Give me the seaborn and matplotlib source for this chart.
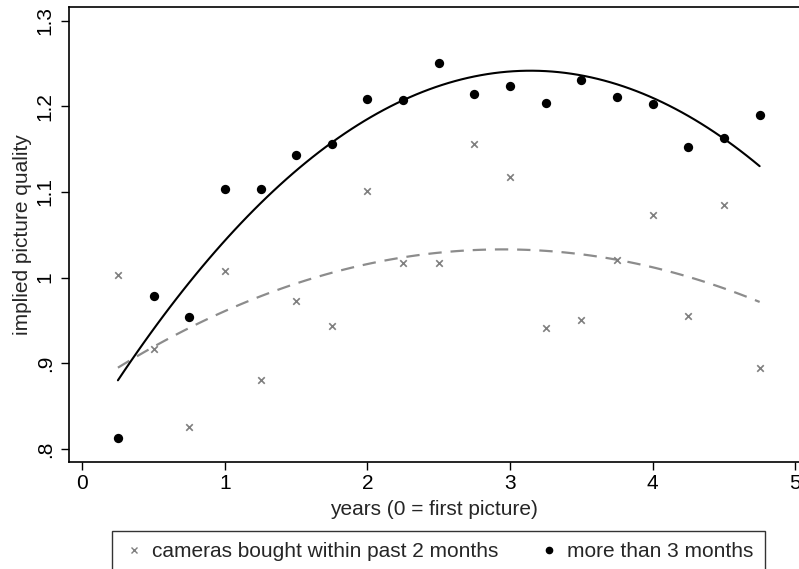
import matplotlib
matplotlib.use("Agg")
import matplotlib.pyplot as plt
import seaborn as sns
import pandas as pd
from matplotlib.lines import Line2D

years = [0.25, 0.5, 0.75, 1.0, 1.25, 1.5, 1.75, 2.0, 2.25, 2.5,
         2.75, 3.0, 3.25, 3.5, 3.75, 4.0, 4.25, 4.5, 4.75]
recent = [1.003, 0.917, 0.826, 1.008, 0.880, 0.973, 0.944, 1.101, 1.017, 1.017,
          1.156, 1.117, 0.941, 0.950, 1.021, 1.073, 0.955, 1.085, 0.894]
older = [0.813, 0.978, 0.954, 1.104, 1.104, 1.143, 1.156, 1.209, 1.208, 1.251,
         1.215, 1.224, 1.204, 1.231, 1.211, 1.203, 1.152, 1.163, 1.190]

label_recent = "cameras bought within past 2 months"
label_older = "more than 3 months"
xticks = [0, 1, 2, 3, 4, 5]
yticks = [0.8, 0.9, 1.0, 1.1, 1.2, 1.3]
ytick_labels = [".8", ".9", "1", "1.1", "1.2", "1.3"]

df_r = pd.DataFrame({"x": years, "y": recent})
df_o = pd.DataFrame({"x": years, "y": older})

sns.set_style("ticks")
plt.rcParams["font.family"] = ["Liberation Sans", "DejaVu Sans"]

fig = plt.figure(figsize=(7.99, 5.69), dpi=100)
ax = fig.add_axes([0.086, 0.1886, 0.914, 0.799])

sns.regplot(data=df_r, x="x", y="y", order=2, ci=None, scatter=False, truncate=True,
            ax=ax, line_kws=dict(color="#8c8c8c", lw=1.6, linestyle=(0, (6, 4))))
sns.regplot(data=df_o, x="x", y="y", order=2, ci=None, scatter=False, truncate=True,
            ax=ax, line_kws=dict(color="black", lw=1.5))
sns.scatterplot(data=df_r, x="x", y="y", marker="x", color="#7f7f7f", s=22,
                linewidth=1.2, ax=ax, zorder=3)
sns.scatterplot(data=df_o, x="x", y="y", marker="o", color="black", s=45,
                edgecolor="black", linewidth=0, ax=ax, zorder=3)

ax.set_xlim(-0.095, 5.026)
ax.set_ylim(0.785, 1.316)
ax.set_xticks(xticks)
ax.set_xticklabels([str(t) for t in xticks])
ax.set_yticks(yticks)
ax.set_yticklabels(ytick_labels, rotation=90, va="center")
ax.tick_params(axis="both", direction="out", length=6, width=1, labelsize=15, colors="black")
ax.tick_params(axis="x", pad=3)
ax.tick_params(axis="y", pad=4)
ax.set_xlabel("years (0 = first picture)", fontsize=15, labelpad=5)
ax.set_ylabel("implied picture quality", fontsize=15, labelpad=3)
for s in ["left", "bottom", "top"]:
    ax.spines[s].set_color("black")
    ax.spines[s].set_linewidth(1.2)
ax.spines["right"].set_visible(False)

handles = [Line2D([], [], marker="x", color="#7f7f7f", linestyle="none", markersize=4, mew=1),
           Line2D([], [], marker="o", color="black", linestyle="none", markersize=4.5)]
leg = fig.legend(handles, [label_recent, label_older], loc="upper center",
                 bbox_to_anchor=(438.5 / 799, 1 - 531 / 569), ncol=2, fontsize=15,
                 frameon=True, fancybox=False, edgecolor="black", handletextpad=0.4,
                 columnspacing=1.9, borderpad=0.55, borderaxespad=0, handlelength=1.0)
leg.get_frame().set_linewidth(1.0)

fig.savefig("out.png", dpi=100)
